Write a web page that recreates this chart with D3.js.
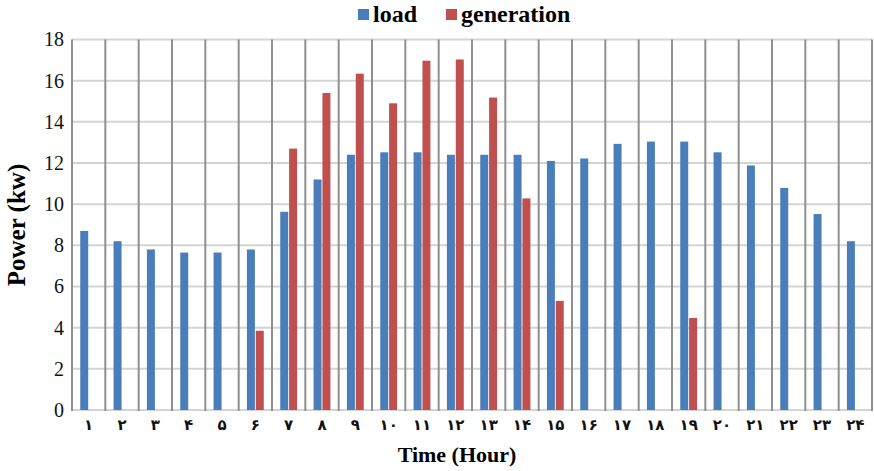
<!DOCTYPE html>
<html><head><meta charset="utf-8">
<script src="https://cdn.jsdelivr.net/npm/d3@7"></script>
<style>body{margin:0;background:#fff}</style>
</head><body><svg id="c" width="874" height="471"></svg>
<script>
const hours = ['۱','۲','۳','۴','۵','۶','۷','۸','۹','۱۰','۱۱','۱۲','۱۳','۱۴','۱۵','۱۶','۱۷','۱۸','۱۹','۲۰','۲۱','۲۲','۲۳','۲۴'];
const load = [8.7,8.2,7.8,7.65,7.65,7.8,9.63,11.2,12.4,12.52,12.52,12.4,12.4,12.4,12.1,12.22,12.93,13.04,13.04,12.52,11.88,10.79,9.52,8.2];
const generation = [0,0,0,0,0,3.85,12.7,15.4,16.34,14.9,16.97,17.03,15.18,10.28,5.3,0,0,0,4.47,0,0,0,0,0];
const seriesNames = ['load','generation'];
const colors = ['#4A7EBB','#C0504D'];
const yTicks = [0,2,4,6,8,10,12,14,16,18];

const svg = d3.select('#c');
const L=72, R=872, T=39.5, B=410;
const x = d3.scaleBand().domain(hours).range([L,R]);
const y = d3.scaleLinear().domain([0,18]).range([B,T]);
const sub = d3.scaleBand().domain(seriesNames).range([0,x.bandwidth()]).paddingInner(0.1).paddingOuter(0.93);

// horizontal gridlines
svg.append('g').selectAll('line').data(yTicks).join('line')
  .attr('x1',L).attr('x2',R).attr('y1',d=>y(d)).attr('y2',d=>y(d))
  .attr('stroke','#d4d4d4').attr('stroke-width',2);
// vertical gridlines
const bounds = hours.map(h=>x(h)).concat([R]);
svg.append('g').selectAll('line').data(bounds).join('line')
  .attr('x1',d=>d).attr('x2',d=>d).attr('y1',T).attr('y2',B+1)
  .attr('stroke','#8f8f8f').attr('stroke-width',2);

// bars
const data = hours.map((h,i)=>({h, vals:[load[i],generation[i]]}));
const g = svg.append('g');
data.forEach(d=>{
  d.vals.forEach((v,j)=>{
    if(v<=0) return;
    g.append('rect').attr('x',x(d.h)+sub(seriesNames[j])).attr('width',sub.bandwidth())
      .attr('y',y(v)).attr('height',B-y(v)).attr('fill',colors[j]);
  });
});

// y axis
const ya = svg.append('g').attr('transform',`translate(${L},0)`)
  .call(d3.axisLeft(y).tickValues(yTicks).tickSize(0).tickPadding(8));
ya.select('.domain').remove();
ya.selectAll('text').attr('font-family','Liberation Serif').attr('font-size',20).attr('fill','#111');

// x axis
const xa = svg.append('g').attr('transform',`translate(0,${B})`)
  .call(d3.axisBottom(x).tickSize(0).tickPadding(9));
xa.select('.domain').remove();
xa.selectAll('text').attr('font-family','DejaVu Sans').attr('font-weight','bold').attr('font-size',15).attr('fill','#111');

// titles
svg.append('text').attr('x',457).attr('y',462).attr('text-anchor','middle')
  .attr('font-family','Liberation Serif').attr('font-weight','bold').attr('font-size',22).text('Time (Hour)');
svg.append('text').attr('transform','translate(25,225) rotate(-90)').attr('text-anchor','middle')
  .attr('font-family','Liberation Serif').attr('font-weight','bold').attr('font-size',25).text('Power (kw)');

// legend
const lx=[358,446];
seriesNames.forEach((s,i)=>{
  svg.append('rect').attr('x',lx[i]).attr('y',9).attr('width',11).attr('height',11).attr('fill',colors[i]);
  svg.append('text').attr('x',lx[i]+15).attr('y',22).attr('font-family','Liberation Serif')
    .attr('font-weight','bold').attr('font-size',24).text(s);
});
</script></body></html>
